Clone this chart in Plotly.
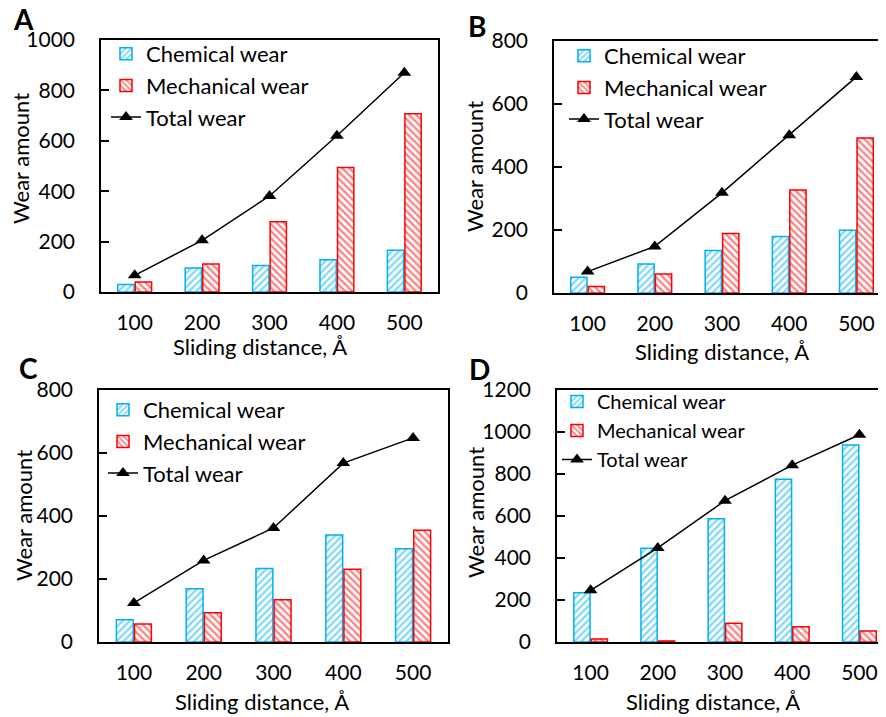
import plotly.graph_objects as go

W, H = 886, 717
OFF = 8  # page body margin offset of the rendered figure

distances = ["100", "200", "300", "400", "500"]

chem_A = [30, 95, 105, 128, 166]
mech_A = [40, 111, 279, 494, 707]
total_A = [66, 205, 381, 620, 870]

chem_B = [50, 92, 135, 179, 199]
mech_B = [21, 60, 189, 327, 492]
total_B = [68, 148, 318, 501, 686]

chem_C = [71, 169, 233, 340, 296]
mech_C = [57, 93, 134, 231, 355]
total_C = [124, 259, 362, 568, 648]

chem_D = [235, 446, 587, 775, 938]
mech_D = [14, 5, 89, 73, 52]
total_D = [246, 448, 673, 842, 987]

BLUE = "#00B0F0"
RED = "#FF0000"
FONT = "Lato"


def px(x):
    return (x - OFF) / W


def py(y):
    return 1 - (y - OFF) / H


panels = [
    ("A", "x", "y", chem_A, mech_A, total_A, "legend"),
    ("B", "x2", "y2", chem_B, mech_B, total_B, "legend2"),
    ("C", "x3", "y3", chem_C, mech_C, total_C, "legend3"),
    ("D", "x4", "y4", chem_D, mech_D, total_D, "legend4"),
]

fig = go.Figure()
for name, xa, ya, chem, mech, tot, leg in panels:
    fig.add_trace(go.Bar(
        x=distances, y=chem, name="Chemical wear", xaxis=xa, yaxis=ya, legend=leg,
        marker=dict(color="white", line=dict(color=BLUE, width=1.5),
                    pattern=dict(shape="/", fgcolor=BLUE, bgcolor="white",
                                 size=5, solidity=0.45, fillmode="overlay")),
    ))
    fig.add_trace(go.Bar(
        x=distances, y=mech, name="Mechanical wear", xaxis=xa, yaxis=ya, legend=leg,
        marker=dict(color="white", line=dict(color=RED, width=1.5),
                    pattern=dict(shape="\\", fgcolor=RED, bgcolor="white",
                                 size=5, solidity=0.45, fillmode="overlay")),
    ))
    fig.add_trace(go.Scatter(
        x=distances, y=tot, name="Total wear", xaxis=xa, yaxis=ya, legend=leg,
        mode="lines+markers",
        line=dict(color="black", width=1.5),
        marker=dict(symbol="triangle-up", size=12, color="black"),
    ))

axis_common = dict(showgrid=False, zeroline=False, showline=True, linecolor="black",
                   linewidth=1.5, tickfont=dict(family=FONT, size=21, color="black"))

# plot area boxes in pixels: left, right, top, bottom, ymax, dtick
boxes = {
    "A": (101, 438, 40, 292, 1000, 200),
    "B": (554, 890, 41, 293, 800, 200),
    "C": (99, 448, 390, 642, 800, 200),
    "D": (557, 893, 390, 642, 1200, 200),
}

layout = dict(
    width=W, height=H, autosize=False,
    margin=dict(l=0, r=0, t=0, b=0, pad=0, autoexpand=False),
    paper_bgcolor="white", plot_bgcolor="white",
    barmode="group", bargap=0.48, bargroupgap=0.07,
    font=dict(family=FONT, color="black"),
)

suffix = {"A": "", "B": "2", "C": "3", "D": "4"}
for name, (l, r, t, b, ymax, dt) in boxes.items():
    s = suffix[name]
    right_px = min(r, W)
    span = (r - l)
    rng_hi = -0.5 + 5 * (right_px - l) / span
    layout["xaxis" + s] = dict(
        axis_common, domain=[px(l), px(right_px)], anchor="y" + s, ticks="",
        range=[-0.5, rng_hi], mirror=True, ticklabelstandoff=11, type="category",
        automargin=False,
    )
    layout["yaxis" + s] = dict(
        axis_common, domain=[py(b), py(t)], anchor="x" + s,
        ticks="inside", ticklen=8, tickwidth=1.5, tickcolor="black",
        range=[0, ymax], dtick=dt, mirror=(r <= W), ticklabelstandoff=20,
        automargin=False,
    )

legend_pos = {
    "legend": (106, 33, 22),
    "legend2": (564, 35, 22),
    "legend3": (103, 389, 22),
    "legend4": (557, 382, 20),
}
for k, (lx, ly, fs) in legend_pos.items():
    layout[k] = dict(x=px(lx), y=py(ly), xanchor="left", yanchor="top",
                     bgcolor="rgba(0,0,0,0)", borderwidth=0,
                     font=dict(family=FONT, size=fs, color="black"),
                     tracegroupgap=0)

fig.update_layout(**layout)

annotations = []
letters = {"A": (23, 19), "B": (477, 26), "C": (28, 368), "D": (480, 369)}
for k, (x, y) in letters.items():
    annotations.append(dict(text="<b>%s</b>" % k, x=px(x), y=py(y), xref="paper", yref="paper",
                            xanchor="center", yanchor="middle", borderpad=0,
                            showarrow=False, font=dict(family=FONT, size=28, color="black")))
ytitles = [(20, 159), (475, 167), (23, 516), (475, 513)]
for x, y in ytitles:
    annotations.append(dict(text="Wear amount", x=px(x), y=py(y), xref="paper", yref="paper",
                            xanchor="center", yanchor="middle",
                            textangle=-90, showarrow=False,
                            font=dict(family=FONT, size=22, color="black")))
xtitles = [(260, 346), (722, 351), (262, 701), (713, 701)]
for x, y in xtitles:
    annotations.append(dict(text="Sliding distance, Å", x=px(x), y=py(y), xref="paper", yref="paper",
                            xanchor="center", yanchor="middle", borderpad=0,
                            showarrow=False, font=dict(family=FONT, size=22, color="black")))
fig.update_layout(annotations=annotations)

fig.write_html("out.html")
